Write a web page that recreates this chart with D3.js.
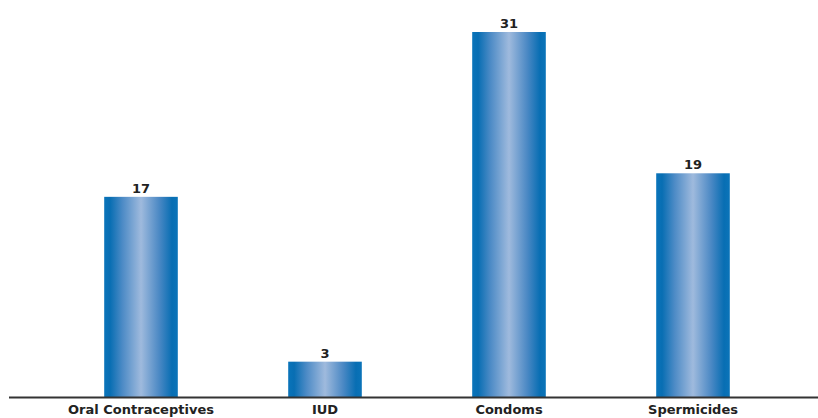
<!DOCTYPE html>
<html>
<head>
<meta charset="utf-8">
<script src="https://cdn.jsdelivr.net/npm/d3@7"></script>
<style>
  body { margin: 0; background: #fff; }
  svg text { font-family: "DejaVu Sans", Verdana, sans-serif; font-weight: bold; fill: #222; }
</style>
</head>
<body>
<div id="chart"></div>
<script>
// data
var categories = ["Oral Contraceptives", "IUD", "Condoms", "Spermicides"];
var values = [17, 3, 31, 19];

var width = 818, height = 418;
var baseY = 397;

var svg = d3.select("#chart")
    .append("svg")
    .attr("width", width)
    .attr("height", height);

// horizontal gradient for the bars
var grad = svg.append("defs")
    .append("linearGradient")
    .attr("id", "barGrad")
    .attr("x1", "0%").attr("x2", "100%")
    .attr("y1", "0%").attr("y2", "0%");
var stops = [
    ["0%", "#0a74ba"], ["8%", "#086eb3"], ["25%", "#4d8bc6"],
    ["50%", "#9fbadd"], ["75%", "#4a88c4"], ["92%", "#086eb3"], ["100%", "#0b74b9"]
];
stops.forEach(function(s) {
    grad.append("stop").attr("offset", s[0]).attr("stop-color", s[1]);
});

var x = d3.scaleBand()
    .domain(categories)
    .range([49, 785])
    .paddingInner(0.6)
    .paddingOuter(0.3);

var y = d3.scaleLinear()
    .domain([0, 31])
    .range([baseY, 32]);

var data = categories.map(function(c, i) { return { name: c, value: values[i] }; });

// bars
svg.selectAll("rect.bar")
    .data(data)
    .join("rect")
    .attr("class", "bar")
    .attr("x", function(d) { return x(d.name); })
    .attr("y", function(d) { return y(d.value); })
    .attr("width", x.bandwidth())
    .attr("height", function(d) { return baseY - y(d.value); })
    .attr("fill", "url(#barGrad)");

// value labels
svg.selectAll("text.val")
    .data(data)
    .join("text")
    .attr("class", "val")
    .attr("x", function(d) { return x(d.name) + x.bandwidth() / 2; })
    .attr("y", function(d) { return y(d.value) - 4; })
    .attr("text-anchor", "middle")
    .attr("font-size", "13px")
    .text(function(d) { return d.value; });

// baseline
svg.append("line")
    .attr("x1", 9).attr("x2", width)
    .attr("y1", baseY + 0.5).attr("y2", baseY + 0.5)
    .attr("stroke", "#333")
    .attr("stroke-width", 2);

// category labels
svg.selectAll("text.cat")
    .data(categories)
    .join("text")
    .attr("class", "cat")
    .attr("x", function(d) { return x(d) + x.bandwidth() / 2; })
    .attr("y", 414)
    .attr("text-anchor", "middle")
    .attr("font-size", "13px")
    .text(function(d) { return d; });
</script>
</body>
</html>
